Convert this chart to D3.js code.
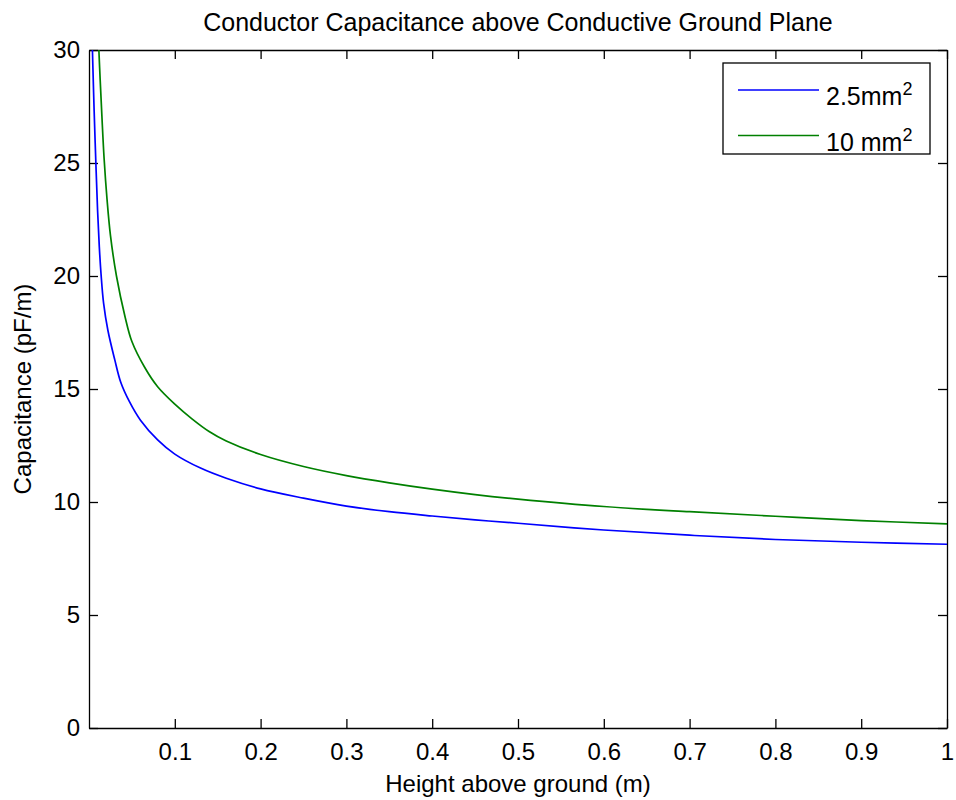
<!DOCTYPE html>
<html>
<head>
<meta charset="utf-8">
<title>Conductor Capacitance above Conductive Ground Plane</title>
<script src="https://d3js.org/d3.v7.min.js"></script>
<style>
  body { margin: 0; background: #fff; }
  svg text { font-family: "Liberation Sans", Arial, sans-serif; fill: #000; }
</style>
</head>
<body>
<svg id="chart" width="956" height="800"></svg>
<script>
// series: height above ground (m) -> capacitance (pF/m)
const hSmall = [0.004, 0.005, 0.006, 0.008, 0.010, 0.012, 0.014, 0.017, 0.022, 0.03, 0.037, 0.047, 0.06, 0.08, 0.1, 0.13, 0.16, 0.2, 0.25, 0.3, 0.35, 0.4, 0.45, 0.5, 0.6, 0.7, 0.8, 0.9, 1.0];
const cSmall = [30, 28.6, 27.3, 25.0, 22.9, 21.3, 20.1, 18.8, 17.6, 16.3, 15.3, 14.45, 13.62, 12.75, 12.12, 11.5, 11.05, 10.58, 10.17, 9.82, 9.57, 9.38, 9.21, 9.06, 8.76, 8.53, 8.34, 8.22, 8.13];

const hLarge = [0.0115, 0.013, 0.015, 0.0176, 0.021, 0.025, 0.032, 0.042, 0.05, 0.065, 0.08, 0.1, 0.12, 0.14, 0.16, 0.2, 0.25, 0.3, 0.35, 0.4, 0.45, 0.5, 0.6, 0.7, 0.8, 0.9, 1.0];
const cLarge = [30, 28.7, 27.1, 25.2, 23.4, 21.8, 20.0, 18.2, 17.1, 15.95, 15.1, 14.33, 13.68, 13.12, 12.7, 12.1, 11.57, 11.17, 10.85, 10.57, 10.33, 10.13, 9.8, 9.57, 9.37, 9.18, 9.03];

const seriesNames = ["2.5mm", "10 mm"];
const seriesColors = ["#0000ff", "#008000"];
const xTicks = [0.1, 0.2, 0.3, 0.4, 0.5, 0.6, 0.7, 0.8, 0.9, 1];
const yTicks = [0, 5, 10, 15, 20, 25, 30];

const svg = d3.select("#chart");
const margin = {left: 89, right: 9, top: 50, bottom: 72};
const width = 956 - margin.left - margin.right,
      height = 800 - margin.top - margin.bottom;

const x = d3.scaleLinear().domain([0, 1]).range([0, width]);
const y = d3.scaleLinear().domain([0, 30]).range([height, 0]);

const g = svg.append("g").attr("transform", `translate(${margin.left},${margin.top})`);

g.append("clipPath").attr("id", "clip")
  .append("rect").attr("width", width).attr("height", height);

// axes, ticks pointing inwards like matlab
const styleAxis = sel => {
  sel.selectAll("path").attr("stroke", "#000").attr("stroke-width", 1.3);
  sel.selectAll("line").attr("stroke", "#000").attr("stroke-width", 1.3);
  sel.selectAll("text").attr("font-size", 24).attr("font-family", "Liberation Sans, Arial, sans-serif");
};

g.append("g").attr("transform", `translate(0,${height})`)
  .call(d3.axisBottom(x).tickValues(xTicks).tickFormat(d3.format("")).tickSizeInner(-9).tickSizeOuter(0).tickPadding(15))
  .call(styleAxis);
g.append("g")
  .call(d3.axisTop(x).tickValues(xTicks).tickFormat("").tickSizeInner(-9).tickSizeOuter(0))
  .call(styleAxis);
g.append("g")
  .call(d3.axisLeft(y).tickValues(yTicks).tickSizeInner(-9).tickSizeOuter(0).tickPadding(9))
  .call(styleAxis);
g.append("g").attr("transform", `translate(${width},0)`)
  .call(d3.axisRight(y).tickValues(yTicks).tickFormat("").tickSizeInner(-9).tickSizeOuter(0))
  .call(styleAxis);

// curves
const line = d3.line().x(d => x(d[0])).y(d => y(d[1])).curve(d3.curveCatmullRom.alpha(0.5));
const series = [d3.zip(hSmall, cSmall), d3.zip(hLarge, cLarge)];
g.append("g").attr("clip-path", "url(#clip)")
  .selectAll("path").data(series).join("path")
  .attr("d", line)
  .attr("fill", "none")
  .attr("stroke", (d, i) => seriesColors[i])
  .attr("stroke-width", 1.7);

// title and labels
svg.append("text")
  .attr("x", margin.left + width / 2).attr("y", 31)
  .attr("text-anchor", "middle").attr("font-size", 25)
  .text("Conductor Capacitance above Conductive Ground Plane");

svg.append("text")
  .attr("x", margin.left + width / 2).attr("y", 792)
  .attr("text-anchor", "middle").attr("font-size", 24)
  .text("Height above ground (m)");

svg.append("text")
  .attr("transform", `translate(31,${margin.top + height / 2}) rotate(-90)`)
  .attr("text-anchor", "middle").attr("font-size", 24)
  .text("Capacitance (pF/m)");

// legend
const legend = svg.append("g").attr("transform", "translate(723,63)");
legend.append("rect")
  .attr("width", 207).attr("height", 91)
  .attr("fill", "#fff").attr("stroke", "#000").attr("stroke-width", 1.3);
const rows = legend.selectAll("g.row").data(seriesNames).join("g")
  .attr("class", "row")
  .attr("transform", (d, i) => `translate(0,${27 + i * 45.5})`);
rows.append("line")
  .attr("x1", 15).attr("x2", 96)
  .attr("stroke", (d, i) => seriesColors[i]).attr("stroke-width", 1.7);
const lt = rows.append("text").attr("x", 103).attr("y", 15).attr("font-size", 25);
lt.append("tspan").text(d => d);
lt.append("tspan").attr("dy", -10).attr("font-size", 18).text("2");
</script>
</body>
</html>
